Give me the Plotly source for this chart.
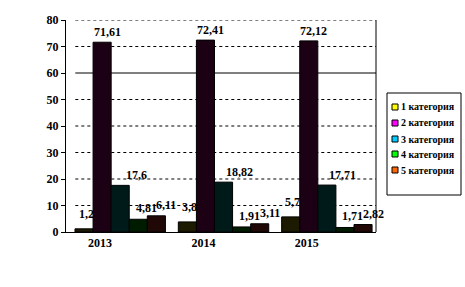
import plotly.graph_objects as go

years = ["2013", "2014", "2015"]
categories = ["1 категория", "2 категория", "3 категория", "4 категория", "5 категория"]
cat1 = [1.2, 3.8, 5.7]
cat2 = [71.61, 72.41, 72.12]
cat3 = [17.6, 18.82, 17.71]
cat4 = [4.81, 1.91, 1.71]
cat5 = [6.11, 3.11, 2.82]
series = [cat1, cat2, cat3, cat4, cat5]
bar_colors = ["#1c1a00", "#1c0014", "#001a1a", "#001c00", "#200806"]
legend_colors = ["#ffff00", "#ff00ff", "#00ccff", "#00ff00", "#ff6600"]
label_xshift = [2, 5, 16, 8, 10]
label_yshift = [6, 1, 1, 2, 2]
y_ticks = [0, 10, 20, 30, 40, 50, 60, 70, 80]

FONT = "Liberation Serif, Times New Roman, serif"
xpos = list(range(len(years)))

# plot area in pixels
L, R, T, B = 66, 376, 20, 232
W, H = 465, 287
BAR_W = 0.175
OFF0 = -0.443


def px_x(px):
    return (px - L) / (R - L)


def px_y(py):
    return (B - py) / (B - T)


fig = go.Figure()
annotations = []
for i, (name, vals, col) in enumerate(zip(categories, series, bar_colors)):
    off = OFF0 + i * BAR_W
    fig.add_trace(go.Bar(
        x=xpos, y=vals, name=name, showlegend=False,
        width=BAR_W, offset=off,
        marker=dict(color=col, line=dict(color="#000000", width=1)),
    ))
    for xv, v in zip(xpos, vals):
        annotations.append(dict(
            x=xv + off + BAR_W / 2, y=v, xref="x", yref="y",
            text=str(v).replace(".", ","), showarrow=False,
            xanchor="center", yanchor="bottom",
            xshift=label_xshift[i], yshift=label_yshift[i],
            font=dict(family=FONT, size=12, color="#000000", weight="bold"),
        ))

shapes = []
# gridlines
for t in y_ticks[1:]:
    shapes.append(dict(type="line", xref="paper", yref="y", x0=0.03, x1=1, y0=t, y1=t,
                       line=dict(color="#000000", width=1, dash="solid" if t == 60 else "dot"),
                       layer="below"))
shapes.append(dict(type="line", xref="paper", yref="paper", x0=1, x1=1, y0=0, y1=1,
                   line=dict(color="#000000", width=1)))

# custom legend
shapes.append(dict(type="rect", xref="paper", yref="paper",
                   x0=px_x(387), x1=px_x(461), y0=px_y(195), y1=px_y(93),
                   line=dict(color="#000000", width=1), fillcolor="white"))
item_y = [107, 123, 139, 154, 170]
for name, col, py in zip(categories, legend_colors, item_y):
    shapes.append(dict(type="rect", xref="paper", yref="paper",
                       x0=px_x(392), x1=px_x(398), y0=px_y(py + 3), y1=px_y(py - 3),
                       line=dict(color="#000000", width=1), fillcolor=col))
    annotations.append(dict(x=px_x(399), y=px_y(py), xref="paper", yref="paper",
                            text=name, showarrow=False, xanchor="left", yanchor="middle",
                            font=dict(family=FONT, size=10, color="#000000", weight="bold")))

fig.update_layout(
    width=W, height=H,
    margin=dict(l=L, r=W - R, t=T, b=H - B, autoexpand=False),
    paper_bgcolor="white", plot_bgcolor="white",
    barmode="overlay",
    showlegend=False,
    shapes=shapes, annotations=annotations,
    xaxis=dict(range=[-0.53, 2.47], tickmode="array", tickvals=[x - 0.2 for x in xpos],
               ticktext=years, showgrid=False, zeroline=False, showline=True,
               linecolor="#000000", ticks="",
               tickfont=dict(family=FONT, size=12, color="#000000", weight="bold")),
    yaxis=dict(range=[0, 80], tickvals=y_ticks, showgrid=False, zeroline=False,
               showline=True, linecolor="#000000", ticks="outside", ticklen=4,
               tickcolor="#000000",
               tickfont=dict(family=FONT, size=12, color="#000000", weight="bold")),
)

fig.write_html("out.html")
